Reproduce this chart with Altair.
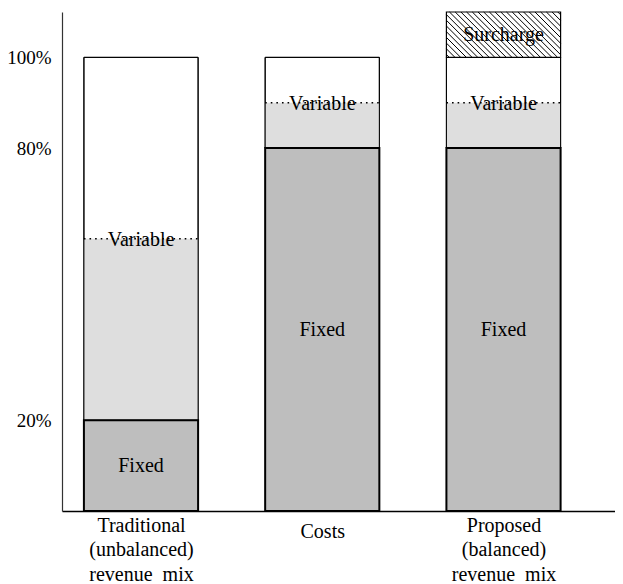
import altair as alt
import pandas as pd

# ---- data ----
positions = [0, 1, 2]
fixed_share = [20, 80, 80]
variable_top = [60, 90, 90]
total_share = [100, 100, 100]
surcharge_top = [None, None, 110]
y_ticks = [20, 80, 100]

HALF = 0.315            # half bar width (x units)
W, H = 553, 499
XDOM = [-0.4359, -0.4359 + W / 181.25]
YDOM = [0, 110]
FONT = "Liberation Serif"
FS = 20
FSY = 19

rows = []
for p, f, v, t in zip(positions, fixed_share, variable_top, total_share):
    rows.append(dict(x0=p - HALF, x1=p + HALF, xc=p, fixed=f, var=v, tot=t,
                     fmid=f / 2, zero=0))
df = pd.DataFrame(rows)

sur = pd.DataFrame([dict(x0=p - HALF, x1=p + HALF, xc=p, lo=t, hi=s, mid=(t + s) / 2)
                    for p, t, s in zip(positions, total_share, surcharge_top) if s is not None])

# hatch pattern for the surcharge box, derived from its extents
sx = W / (XDOM[1] - XDOM[0])
sy = H / (YDOM[1] - YDOM[0])
hatch = []
for _, r in sur.iterrows():
    bw = (r.x1 - r.x0) * sx
    bh = (r.hi - r.lo) * sy
    step = 5.7
    c = -bh + step / 2
    while c < bw:
        us = max(0.0, c)
        ue = min(bw, c + bh)
        if ue > us:
            vs, ve = us - c, ue - c
            hatch.append(dict(ax=r.x0 + us / sx, ay=r.hi - vs / sy,
                              bx=r.x0 + ue / sx, by=r.hi - ve / sy))
        c += step
hdf = pd.DataFrame(hatch)

xscale = alt.Scale(domain=XDOM, nice=False, zero=False)
yscale = alt.Scale(domain=YDOM, nice=False, zero=False)

xaxis = alt.Axis(
    values=positions, title=None, ticks=False, grid=False,
    labelExpr=("datum.value == 0 ? ['Traditional','(unbalanced)','revenue\u00a0 mix'] : "
               "datum.value == 1 ? 'Costs' : ['Proposed','(balanced)','revenue\u00a0 mix']"),
    labelAlign="center", labelBaseline="top", labelLineHeight=24.5,
    labelPadding={"expr": "datum.value == 1 ? 10 : 4"},
    labelFont=FONT, labelFontSize=FS, labelColor="black",
    labelFlush=False, labelOverlap=False, labelBound=False,
    domainColor="black", domainWidth=1.5,
)
yaxis = alt.Axis(
    values=y_ticks, title=None, ticks=False, grid=False,
    labelExpr="datum.value + '%'", labelPadding=11,
    labelFont=FONT, labelFontSize=FSY, labelColor="black",
    domainColor="#333", domainWidth=1.2, labelFlush=False,
)


def X(f):
    return alt.X(f, scale=xscale, axis=xaxis, title=None)


def Y(f):
    return alt.Y(f, scale=yscale, axis=yaxis, title=None)


base = alt.Chart(df)

outer = base.mark_rect(fill="white", stroke="black", strokeWidth=1).encode(
    x=X("x0:Q"), x2="x1:Q", y=Y("fixed:Q"), y2="tot:Q",
)
variable = base.mark_rect(fill="#dedede", strokeWidth=0).encode(
    x=X("x0:Q"), x2="x1:Q", y=Y("fixed:Q"), y2="var:Q",
)
sides = base.mark_rect(fill=None, stroke="black", strokeWidth=1).encode(
    x=X("x0:Q"), x2="x1:Q", y=Y("fixed:Q"), y2="tot:Q",
)
fixed = base.mark_rect(fill="#bebebe", stroke="black", strokeWidth=2).encode(
    x=X("x0:Q"), x2="x1:Q", y=Y("fixed:Q"), y2="zero:Q",
)
dots = base.mark_rule(color="black", strokeWidth=1.6, strokeDash=[1.6, 4]).encode(
    x=X("x0:Q"), x2="x1:Q", y=Y("var:Q"),
)
var_text = base.mark_text(text="Variable", font=FONT, fontSize=FS, baseline="middle",
                          align="center", color="black", dy=1).encode(
    x=X("xc:Q"), y=Y("var:Q"),
)
fixed_text = base.mark_text(text="Fixed", font=FONT, fontSize=FS, baseline="middle",
                            align="center", color="black").encode(
    x=X("xc:Q"), y=Y("fmid:Q"),
)

sbase = alt.Chart(sur)
sur_box = sbase.mark_rect(fill="white", stroke="black", strokeWidth=1.2).encode(
    x=X("x0:Q"), x2="x1:Q", y=Y("lo:Q"), y2="hi:Q",
)
hatch_lines = alt.Chart(hdf).mark_rule(color="black", strokeWidth=1).encode(
    x=X("ax:Q"), x2="bx:Q", y=Y("ay:Q"), y2="by:Q",
)
sur_text = sbase.mark_text(text="Surcharge", font=FONT, fontSize=FS, baseline="middle",
                           align="center", color="black").encode(
    x=X("xc:Q"), y=Y("mid:Q"),
)

chart = alt.layer(
    outer, variable, sides, fixed, sur_box, hatch_lines, dots, var_text, fixed_text, sur_text
).properties(
    width=W, height=H,
    background="white",
    autosize=alt.AutoSizeParams(type="none"),
    padding={"left": 54, "top": 4, "right": 0, "bottom": 72},
).configure_view(stroke=None)

chart.save("out.html", embed_options={"renderer": "svg", "actions": False})
